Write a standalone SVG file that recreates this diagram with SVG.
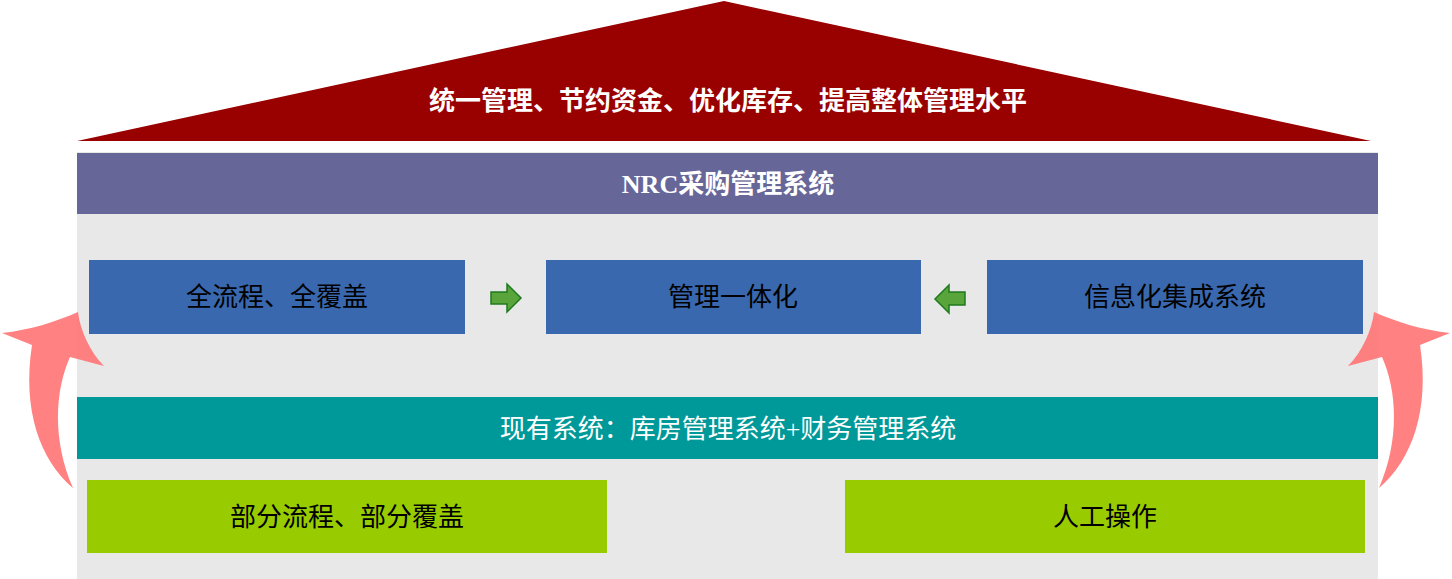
<svg xmlns="http://www.w3.org/2000/svg" width="1452" height="579" viewBox="0 0 1452 579">
<style>
text{font-family:"Liberation Serif","Noto Sans CJK SC",serif;text-anchor:middle;dominant-baseline:central}
.w{fill:#fff;font-size:26px}
.b{fill:#000;font-size:26px}
.blue{fill:#3A68AE}
.green{fill:#99CC00}
.ga{fill:#5AA43C;stroke:#1E7A1E;stroke-width:1.5}
.red{fill:#FF7070;opacity:0.88}
</style>
<rect x="77" y="152" width="1301" height="427" fill="#E8E8E8"/>
<g id="roof"><polygon points="77,141 724,1 1371,141" fill="#990000"/><text class="w" x="728" y="101" font-weight="bold">统一管理、节约资金、优化库存、提高整体管理水平</text></g>
<g id="nrc"><rect x="77" y="153" width="1301" height="61" fill="#666699"/><text class="w" x="728" y="184" font-weight="bold">NRC采购管理系统</text></g>
<g id="n1"><rect class="blue" x="89" y="260" width="376" height="74"/><text class="b" x="277" y="297">全流程、全覆盖</text></g>
<g id="n2"><rect class="blue" x="546" y="260" width="375" height="74"/><text class="b" x="733" y="297">管理一体化</text></g>
<g id="n3"><rect class="blue" x="987" y="260" width="376" height="74"/><text class="b" x="1175" y="297">信息化集成系统</text></g>
<g id="cur"><rect x="77" y="397" width="1301" height="62" fill="#009999"/><text class="w" x="728" y="429">现有系统：库房管理系统+财务管理系统</text></g>
<g id="n4"><rect class="green" x="87" y="480" width="520" height="73"/><text class="b" x="347" y="517">部分流程、部分覆盖</text></g>
<g id="n5"><rect class="green" x="845" y="480" width="520" height="73"/><text class="b" x="1105" y="517">人工操作</text></g>
<g id="connectors">
<polygon class="ga" points="491,292 507,292 507,284 521,298 507,312 507,304 491,304"/>
<polygon class="ga" points="965,292 949,292 949,285 935,299 949,313 949,305 965,305"/>
<path class="red" d="M78,312 C80,330 90,352 104,366 L70,357 C55,390 52,440 73,488 C40,460 22,410 32,345 L2,333 C30,330 55,322 78,312 Z"/>
<path class="red" d="M1374,312 C1372,330 1362,352 1348,366 L1382,357 C1397,390 1400,440 1379,488 C1412,460 1430,410 1420,345 L1450,333 C1422,330 1397,322 1374,312 Z"/>
</g>
</svg>
